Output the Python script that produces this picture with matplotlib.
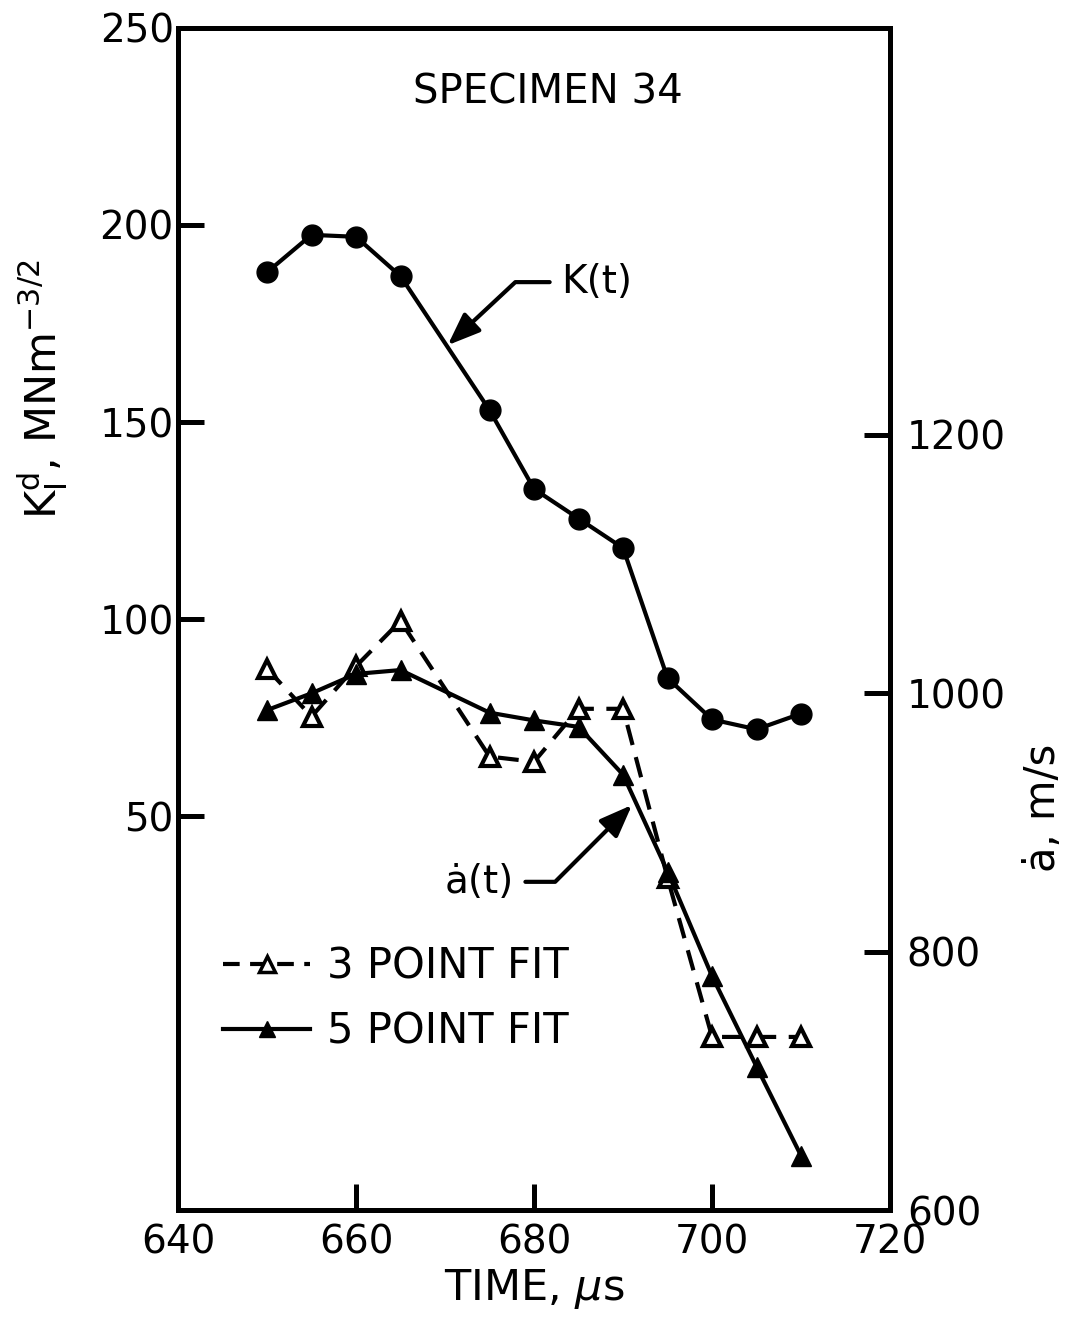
"""Specimen 34: dynamic stress intensity K(t) and crack speed a-dot(t) vs time."""

import matplotlib

matplotlib.use("Agg")  # noqa: E402

import matplotlib.pyplot as plt
from matplotlib.lines import Line2D

# K(t), MNm^-3/2 (left axis)
k_time = [650, 655, 660, 665, 675, 680, 685, 690, 695, 700, 705, 710]
k_val = [188, 197.5, 197, 187, 153, 133, 125.5, 118, 85, 74.5, 72, 76]

# crack speed, m/s (right axis)
fit3_time = [650, 655, 660, 665, 675, 680, 685, 690, 695, 700, 705, 710]
fit3_val = [1019, 982, 1021, 1056, 951, 947, 988, 988, 857, 734, 734, 734]

fit5_time = [650, 655, 660, 665, 675, 680, 685, 690, 695, 700, 705, 710]
fit5_val = [987, 1000, 1015, 1018, 985, 979, 974, 937, 862, 781, 711, 642]

x_ticks = [640, 660, 680, 700, 720]
left_ticks = [50, 100, 150, 200, 250]
right_ticks = [600, 800, 1000, 1200]

LW = 3.0
SPINE_W = 3.6
TICK_FS = 28

fig = plt.figure(figsize=(10.66, 13.2), dpi=100)
ax = fig.add_axes([0.167, 0.0833, 0.668, 0.8955])
ax2 = ax.twinx()

for a in (ax, ax2):
    for sp in a.spines.values():
        sp.set_linewidth(SPINE_W)

ax.plot(k_time, k_val, color="black", lw=LW, marker="o", ms=15, zorder=3)

ax2.plot(fit3_time, fit3_val, color="black", lw=LW, ls=(0, (5, 3)),
         marker="^", ms=13, mfc="white", mec="black", mew=3, zorder=3)
ax2.plot(fit5_time, fit5_val, color="black", lw=LW, ls="-",
         marker="^", ms=14, mfc="black", mec="black", zorder=4)

ax.set_xlim(640, 720)
ax.set_ylim(-50, 250)
ax2.set_ylim(600, 1515)

ax.set_xticks(x_ticks)
ax.set_yticks(left_ticks)
ax2.set_yticks(right_ticks)

ax.tick_params(axis="x", direction="in", length=19, width=SPINE_W,
               labelsize=TICK_FS, pad=10, top=False)
ax.tick_params(axis="y", direction="in", length=19, width=SPINE_W,
               labelsize=TICK_FS, pad=3, right=False)
ax2.tick_params(axis="y", direction="in", length=19, width=SPINE_W,
                labelsize=TICK_FS, pad=12, left=False)

ax.set_xlabel(r"TIME, $\mu$s", fontsize=31, labelpad=4)
ax.set_ylabel(r"K$_{\mathrm{I}}^{\mathrm{d}}$, MNm$^{-3/2}$", fontsize=31)
ax.yaxis.set_label_coords(-0.152, 0.694)
ax2.set_ylabel("ȧ, m/s", fontsize=30, rotation=90)
ax2.yaxis.set_label_coords(1.185, 0.34)

ax.text(0.52, 0.945, "SPECIMEN 34", transform=ax.transAxes, ha="center",
        va="center", fontsize=29)

arrow_kw = dict(arrowstyle="-|>,head_length=0.9,head_width=0.35",
                color="black", lw=3, mutation_scale=22, shrinkA=6, shrinkB=0)
ax.annotate("K(t)", xy=(670.3, 169.5), xytext=(683, 185.5), fontsize=28,
            va="center", ha="left",
            arrowprops=dict(connectionstyle="angle,angleA=0,angleB=43,rad=0",
                            relpos=(0, 0.5), **arrow_kw))
ax.annotate("ȧ(t)", xy=(691.0, 52.8), xytext=(670, 33.3), fontsize=28,
            va="center", ha="left",
            arrowprops=dict(connectionstyle="angle,angleA=0,angleB=45,rad=0",
                            relpos=(1, 0.5), **arrow_kw))

handles = [
    Line2D([], [], color="black", lw=LW, ls=(0, (4, 2.5)), marker="^", ms=11,
           mfc="white", mec="black", mew=2.5),
    Line2D([], [], color="black", lw=LW, marker="^", ms=12, mfc="black"),
]
ax2.legend(handles, ["3 POINT FIT", "5 POINT FIT"], loc="upper left",
           bbox_to_anchor=(0.063, 0.224), frameon=False, fontsize=30,
           handlelength=2.1, handletextpad=0.4, labelspacing=0.55,
           borderpad=0, borderaxespad=0, numpoints=1)

fig.savefig("out.png", dpi=100)
